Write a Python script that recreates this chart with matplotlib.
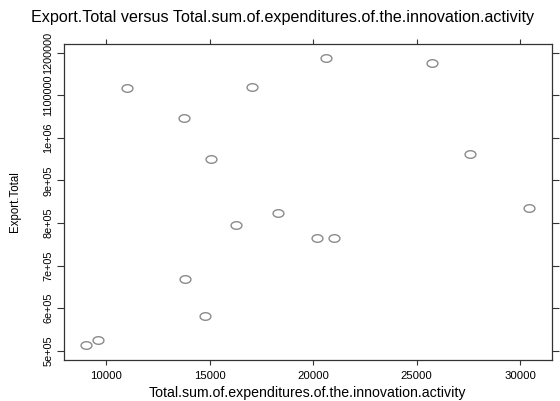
import numpy as np
import matplotlib
matplotlib.use("Agg")
import matplotlib.pyplot as plt
from matplotlib.path import Path

# innovation expenditures vs total export
expenditures = [11000, 17050, 13780, 15070, 20640, 25740, 27570, 9020,
                9600, 13830, 14770, 16270, 18300, 20180, 21020, 30450]
export_total = [1116400, 1120200, 1046600, 950300, 1186900, 1176500, 961300, 513400,
                524400, 667700, 582200, 796000, 823500, 764700, 764000, 835900]

x_ticks = [10000, 15000, 20000, 25000, 30000]
y_ticks = [500000, 600000, 700000, 800000, 900000, 1000000, 1100000, 1200000]
y_ticklabels = ['5e+05', '6e+05', '7e+05', '8e+05', '9e+05', '1e+06', '1100000', '1200000']

plt.rcParams['font.family'] = ['Liberation Sans', 'DejaVu Sans']
narrow = ['Liberation Sans Narrow', 'Liberation Sans', 'DejaVu Sans']

# slightly flattened open circle
t = np.linspace(0, 2 * np.pi, 60)
ellipse = Path(np.column_stack([np.cos(t), 0.7 * np.sin(t)]), closed=True)

fig = plt.figure(figsize=(5.6, 4.01), dpi=100)
ax = fig.add_axes([0.1143, 0.1022, 0.8709, 0.7881])

ax.plot(expenditures, export_total, linestyle='none', marker=ellipse,
        markersize=7.8, markerfacecolor='none', markeredgecolor='#8a8a8a',
        markeredgewidth=1.0)

ax.set_xlim(7971, 31531)
ax.set_ylim(478150, 1220460)

ax.set_xticks(x_ticks)
ax.set_xticklabels([str(v) for v in x_ticks], fontsize=8.2)
ax.set_yticks(y_ticks)
ax.set_yticklabels(y_ticklabels, fontsize=7.8, rotation=90, va='center', family=narrow)

ax.tick_params(direction='out', width=0.8, color='#333333',
               top=True, right=True, labeltop=False, labelright=False)
ax.tick_params(axis='x', length=3.8, pad=4)
ax.tick_params(axis='y', length=4.8, pad=3)

for s in ax.spines.values():
    s.set_linewidth(0.9)
    s.set_color('#333333')

ax.set_xlabel('Total.sum.of.expenditures.of.the.innovation.activity', fontsize=10.2)
ax.xaxis.set_label_coords(0.5, -0.104)
ax.xaxis.label.set_va('center')
ax.set_ylabel('Export.Total', fontsize=8.3, family=narrow)
ax.yaxis.set_label_coords(-0.1005, 0.5)
ax.yaxis.label.set_va('center')

fig.text(0.505, 0.9559,
         'Export.Total versus Total.sum.of.expenditures.of.the.innovation.activity',
         fontsize=11.6, ha='center', va='center')

fig.savefig('out.png', dpi=100)
